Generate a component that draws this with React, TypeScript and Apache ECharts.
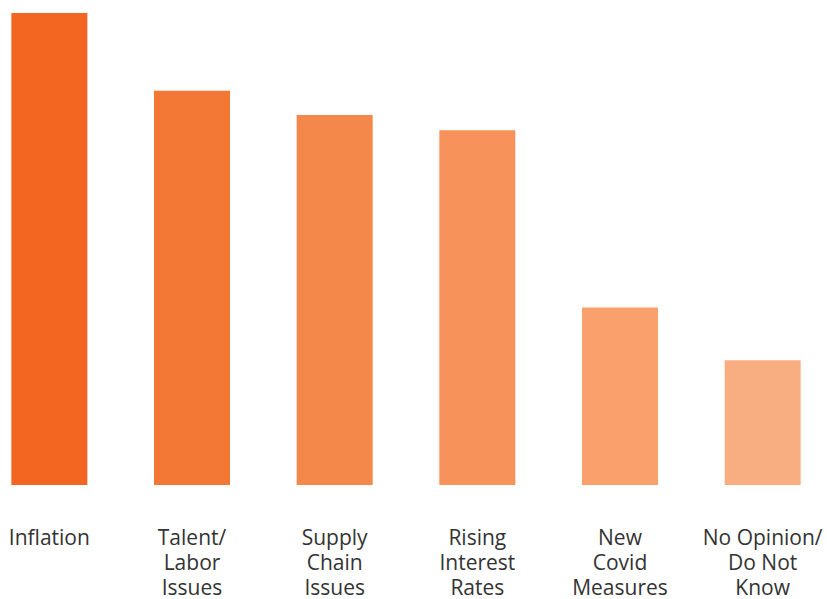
import React, { useEffect, useRef } from "react";
import * as echarts from "echarts";

const categories = [
  "Inflation",
  "Talent/\nLabor\nIssues",
  "Supply\nChain\nIssues",
  "Rising\nInterest\nRates",
  "New\nCovid\nMeasures",
  "No Opinion/\nDo Not\nKnow",
];
const values = [62, 51.8, 48.6, 46.6, 23.3, 16.4];
const colors = ["#F36621", "#F37735", "#F4874A", "#F6925A", "#F9A06C", "#F9AE82"];

export default function App() {
  const ref = useRef<HTMLDivElement>(null);
  useEffect(() => {
    if (!ref.current) return;
    const chart = echarts.init(ref.current, undefined, { renderer: "svg" });
    chart.setOption({
      animation: false,
      grid: { left: 0, right: 0, top: 13, bottom: 110, containLabel: false },
      xAxis: {
        type: "category",
        data: categories,
        axisLine: { show: false },
        axisTick: { show: false },
        axisLabel: {
          interval: 0,
          margin: 39,
          fontFamily: "Open Sans",
          fontSize: 21,
          lineHeight: 25,
          color: "#333333",
          verticalAlign: "top",
        },
      },
      yAxis: {
        type: "value",
        min: 0,
        max: 62,
        show: false,
        splitLine: { show: false },
      },
      series: [
        {
          type: "bar",
          barWidth: 76,
          data: values.map((v, i) => ({ value: v, itemStyle: { color: colors[i] } })),
        },
      ],
    });
    return () => chart.dispose();
  }, []);
  return (
    <div style={{ position: "absolute", left: 0, top: 0, width: 827, height: 599, overflow: "hidden" }}>
      <div ref={ref} style={{ width: 856, height: 599, position: "absolute", left: -22, top: 0 }} />
    </div>
  );
}
